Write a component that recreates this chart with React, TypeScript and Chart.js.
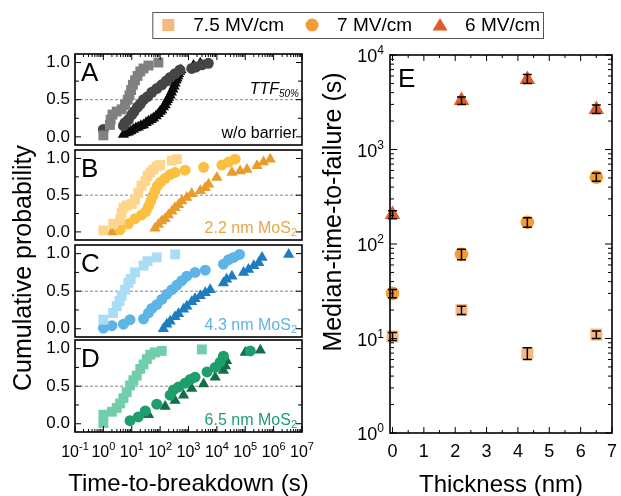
import React, { useEffect, useRef } from "react";
import { Chart, registerables } from "chart.js";
Chart.register(...registerables);

const W = 621;
const H = 496;
const FONT = '"Liberation Sans", Arial, Helvetica, sans-serif';

type Pt = [number, number]; // [time-to-breakdown (s), cumulative probability]

// ---------- Panel A: w/o barrier ----------
const aSquares: Pt[] = [[1.0, 0.02], [1.7, 0.16], [1.8, 0.23], [2.1, 0.3], [2.95, 0.34], [4.4, 0.37], [5.8, 0.43], [7.2, 0.5], [8.3, 0.56], [9.5, 0.63], [11, 0.7], [13, 0.76], [16, 0.82], [20, 0.88], [26, 0.92], [39, 0.96], [87, 1.0]];
const aCircles: Pt[] = [[1.0, 0.1], [5.1, 0.15], [5.8, 0.19], [7.6, 0.23], [10, 0.3], [12, 0.34], [16, 0.4], [20, 0.44], [26, 0.5], [36, 0.54], [51, 0.6], [76, 0.65], [114, 0.7], [163, 0.75], [225, 0.8], [335, 0.85], [500, 0.9], [1300, 0.92], [1800, 0.94], [2960, 0.97], [5000, 0.99]];
const aTriangles: Pt[] = [[5.1, 0.03], [6.2, 0.05], [7.6, 0.06], [9.3, 0.08], [11.4, 0.1], [14, 0.12], [17, 0.13], [21, 0.15], [26, 0.16], [32, 0.19], [39, 0.21], [48, 0.23], [58, 0.25], [72, 0.28], [87, 0.31], [100, 0.34], [114, 0.36], [130, 0.4], [150, 0.43], [165, 0.47], [182, 0.5], [200, 0.53], [225, 0.56], [250, 0.6], [280, 0.64], [310, 0.68], [335, 0.72], [360, 0.76], [390, 0.79], [420, 0.82], [445, 0.85], [490, 0.88], [540, 0.9], [1500, 0.96], [2600, 0.99]];

// ---------- Panel B: 2.2 nm MoS2 ----------
const bSquares: Pt[] = [[1.0, 0.02], [2.25, 0.11], [3.9, 0.17], [4.4, 0.26], [5.1, 0.33], [6.6, 0.36], [10, 0.38], [13, 0.44], [17, 0.53], [22, 0.63], [30, 0.69], [36, 0.76], [45, 0.81], [58, 0.85], [76, 0.89], [100, 0.91], [260, 0.97], [390, 0.99]];
const bCircles: Pt[] = [[3.9, 0.03], [7.6, 0.11], [13, 0.18], [22, 0.23], [32, 0.28], [39, 0.35], [47, 0.42], [55, 0.49], [66, 0.56], [81, 0.63], [106, 0.68], [150, 0.73], [225, 0.78], [335, 0.81], [760, 0.84], [3400, 0.88], [15000, 0.91], [26000, 0.95], [44000, 0.99]];
const bTriangles: Pt[] = [[2.0, 0.0], [66, 0.05], [87, 0.1], [114, 0.15], [150, 0.18], [196, 0.23], [260, 0.28], [335, 0.33], [445, 0.37], [580, 0.42], [870, 0.47], [1300, 0.52], [2600, 0.56], [3900, 0.6], [5100, 0.65], [10000, 0.74], [34000, 0.81], [66000, 0.83], [115000, 0.85], [260000, 0.9], [440000, 0.95], [760000, 0.99]];

// ---------- Panel C: 4.3 nm MoS2 ----------
const cSquares: Pt[] = [[1.0, 0.12], [2.2, 0.21], [2.95, 0.3], [3.7, 0.37], [4.4, 0.44], [5.8, 0.52], [7.6, 0.61], [9.2, 0.66], [13, 0.75], [26, 0.84], [36, 0.9], [76, 0.95], [340, 0.99]];
const cCircles: Pt[] = [[1.0, 0.01], [2.0, 0.04], [5.1, 0.06], [8.7, 0.12], [26, 0.13], [39, 0.21], [51, 0.27], [76, 0.32], [114, 0.39], [172, 0.46], [260, 0.52], [390, 0.58], [580, 0.64], [870, 0.7], [1700, 0.75], [3900, 0.78], [17000, 0.86], [26000, 0.92], [39000, 0.95], [63000, 0.99]];
const cTriangles: Pt[] = [[130, 0.0], [172, 0.06], [225, 0.1], [335, 0.16], [445, 0.2], [670, 0.26], [870, 0.3], [1300, 0.36], [1700, 0.4], [2600, 0.44], [3900, 0.48], [5800, 0.52], [17000, 0.61], [22000, 0.66], [34000, 0.7], [87000, 0.75], [130000, 0.79], [200000, 0.84], [300000, 0.88], [390000, 0.95], [3400000, 0.99]];

// ---------- Panel D: 6.5 nm MoS2 ----------
const dSquares: Pt[] = [[1.0, 0.01], [1.0, 0.12], [2.0, 0.16], [2.95, 0.21], [3.9, 0.27], [5.1, 0.34], [6.6, 0.42], [8.7, 0.51], [11.4, 0.58], [15, 0.64], [20, 0.73], [26, 0.79], [34, 0.86], [45, 0.92], [66, 0.95], [114, 0.97], [2950, 0.99]];
const dCircles: Pt[] = [[8.7, 0.04], [17, 0.09], [30, 0.17], [76, 0.26], [225, 0.38], [295, 0.45], [445, 0.49], [760, 0.54], [1150, 0.59], [1700, 0.62], [4500, 0.69], [8700, 0.75], [13000, 0.82], [17000, 0.9], [150000, 0.97]];
const dTriangles: Pt[] = [[39, 0.12], [150, 0.23], [335, 0.31], [670, 0.38], [1300, 0.47], [3400, 0.53], [8700, 0.62], [17000, 0.71], [20000, 0.77], [22000, 0.84], [100000, 0.95], [340000, 0.98]];

// ---------- Panel E: median time-to-failure ----------
const eThickness = [0, 2.2, 4.3, 6.5];
const e75 = [10.5, 20, 7, 11];
const e75Lo = [9.5, 18, 6, 10];
const e75Hi = [11.6, 22, 8, 12];
const e7 = [30, 78, 170, 510];
const e7Lo = [27, 68, 150, 460];
const e7Hi = [33, 88, 190, 560];
const e6 = [205, 3300, 5500, 2650];
const e6Lo = [185, 3000, 5000, 2400];
const e6Hi = [225, 3600, 6200, 2950];

// ---------- Axis ticks / labels ----------
const probMajor = [0, 0.5, 1.0];
const probMinor = [0.25, 0.75];
const probLabels = ["0.0", "0.5", "1.0"];
const timeExponents = [-1, 0, 1, 2, 3, 4, 5, 6, 7];
const thickTicks = [0, 1, 2, 3, 4, 5, 6, 7];
const thickMinor = [0.5, 1.5, 2.5, 3.5, 4.5, 5.5, 6.5];
const mttfExponents = [0, 1, 2, 3, 4];
const legendLabels = ["7.5 MV/cm", "7 MV/cm", "6 MV/cm"];

const E_COLORS = ["#F7B880", "#F39B36", "#DD5C29"];

type Shape = "rect" | "circle" | "triangle";
interface Series { data: Pt[]; color: string; shape: Shape; }
interface Panel {
  key: string; letter: string; box: [number, number, number, number];
  series: Series[]; note: string; noteSub: string; noteColor: string;
  topTicks: boolean; bottomTicks: boolean; axisText: boolean; ttf: boolean;
}

const panels: Panel[] = [
  { key: "A", letter: "A", box: [75, 54, 302, 145], note: "w/o barrier", noteSub: "", noteColor: "#000", topTicks: true, bottomTicks: false, axisText: false, ttf: true,
    series: [{ data: aSquares, color: "#808080", shape: "rect" }, { data: aCircles, color: "#454545", shape: "circle" }, { data: aTriangles, color: "#0a0a0a", shape: "triangle" }] },
  { key: "B", letter: "B", box: [75, 150, 302, 240], note: "2.2 nm MoS", noteSub: "2", noteColor: "#EBA545", topTicks: false, bottomTicks: false, axisText: false, ttf: false,
    series: [{ data: bSquares, color: "#FDD68C", shape: "rect" }, { data: bCircles, color: "#FCC040", shape: "circle" }, { data: bTriangles, color: "#E99B2B", shape: "triangle" }] },
  { key: "C", letter: "C", box: [75, 245, 302, 337], note: "4.3 nm MoS", noteSub: "2", noteColor: "#5DB4E6", topTicks: false, bottomTicks: false, axisText: false, ttf: false,
    series: [{ data: cSquares, color: "#A8DDF5", shape: "rect" }, { data: cCircles, color: "#5DB4E6", shape: "circle" }, { data: cTriangles, color: "#1D7DBF", shape: "triangle" }] },
  { key: "D", letter: "D", box: [75, 340, 302, 432], note: "6.5 nm MoS", noteSub: "2", noteColor: "#1E9E6C", topTicks: false, bottomTicks: true, axisText: true, ttf: false,
    series: [{ data: dSquares, color: "#72CDAA", shape: "rect" }, { data: dCircles, color: "#1E9E6C", shape: "circle" }, { data: dTriangles, color: "#146F48", shape: "triangle" }] },
];

const LEFT_R: Record<Shape, number> = { rect: 7, circle: 5.5, triangle: 6.5 };
const RIGHT_R: Record<Shape, number> = { rect: 8.5, circle: 6.8, triangle: 9 };

function f(size: number, style = "") { return `${style} ${size}px ${FONT}`.trim(); }

function drawPow(ctx: CanvasRenderingContext2D, x: number, baseline: number, exp: string, size: number, supSize: number, rise: number, align: "center" | "right") {
  ctx.font = f(size);
  const w1 = ctx.measureText("10").width;
  ctx.font = f(supSize);
  const w2 = ctx.measureText(exp).width;
  const total = w1 + w2;
  const x0 = align === "center" ? x - total / 2 : x - total;
  ctx.textAlign = "left";
  ctx.textBaseline = "alphabetic";
  ctx.font = f(size);
  ctx.fillText("10", x0, baseline);
  ctx.font = f(supSize);
  ctx.fillText(exp, x0 + w1, baseline - rise);
}

function drawSub(ctx: CanvasRenderingContext2D, xRight: number, baseline: number, main: string, sub: string, size: number, subSize: number, drop: number, style = "") {
  ctx.font = f(size, style);
  const w1 = ctx.measureText(main).width;
  ctx.font = f(subSize, style);
  const w2 = sub ? ctx.measureText(sub).width : 0;
  const x0 = xRight - w1 - w2;
  ctx.textAlign = "left";
  ctx.textBaseline = "alphabetic";
  ctx.font = f(size, style);
  ctx.fillText(main, x0, baseline);
  if (sub) { ctx.font = f(subSize, style); ctx.fillText(sub, x0 + w1, baseline + drop); }
}

function logMinor(exps: number[]): number[] {
  const out: number[] = [];
  for (let i = 0; i < exps.length - 1; i++) for (let k = 2; k <= 9; k++) out.push(k * Math.pow(10, exps[i]));
  return out;
}

function leftPlugin(p: Panel) {
  return {
    id: "leftFrame" + p.key,
    beforeDatasetsDraw(chart: any) {
      const { ctx, chartArea: a, scales } = chart;
      const yy = scales.y.getPixelForValue(0.5);
      ctx.save();
      ctx.setLineDash([3, 2]);
      ctx.strokeStyle = "#777";
      ctx.lineWidth = 0.9;
      ctx.beginPath(); ctx.moveTo(a.left, yy); ctx.lineTo(a.right, yy); ctx.stroke();
      ctx.restore();
    },
    afterDraw(chart: any) {
      const { ctx, chartArea: a, scales } = chart;
      const xs = scales.x, ys = scales.y;
      ctx.save();
      ctx.strokeStyle = "#000";
      ctx.lineWidth = 1.6;
      ctx.strokeRect(a.left, a.top, a.right - a.left, a.bottom - a.top);
      ctx.lineWidth = 1;
      ctx.beginPath();
      probMajor.forEach((v) => { const py = ys.getPixelForValue(v); ctx.moveTo(a.left, py); ctx.lineTo(a.left + 6, py); ctx.moveTo(a.right, py); ctx.lineTo(a.right - 6, py); });
      probMinor.forEach((v) => { const py = ys.getPixelForValue(v); ctx.moveTo(a.left, py); ctx.lineTo(a.left + 4, py); ctx.moveTo(a.right, py); ctx.lineTo(a.right - 4, py); });
      const majors = timeExponents.map((e) => Math.pow(10, e));
      const minors = logMinor(timeExponents);
      if (p.topTicks) {
        majors.forEach((v) => { const px = xs.getPixelForValue(v); ctx.moveTo(px, a.top); ctx.lineTo(px, a.top + 6); });
        minors.forEach((v) => { const px = xs.getPixelForValue(v); ctx.moveTo(px, a.top); ctx.lineTo(px, a.top + 3); });
      }
      if (p.bottomTicks) {
        majors.forEach((v) => { const px = xs.getPixelForValue(v); ctx.moveTo(px, a.bottom); ctx.lineTo(px, a.bottom - 6); });
        minors.forEach((v) => { const px = xs.getPixelForValue(v); ctx.moveTo(px, a.bottom); ctx.lineTo(px, a.bottom - 3); });
      }
      ctx.stroke();

      ctx.fillStyle = "#000";
      ctx.font = f(17);
      ctx.textAlign = "right";
      ctx.textBaseline = "middle";
      probMajor.forEach((v, i) => ctx.fillText(probLabels[i], a.left - 5, ys.getPixelForValue(v)));

      ctx.font = f(26);
      ctx.textAlign = "left";
      ctx.textBaseline = "alphabetic";
      ctx.fillText(p.letter, a.left + 6, a.top + 27);

      ctx.fillStyle = p.noteColor;
      drawSub(ctx, a.right - 5, a.bottom - 7, p.note, p.noteSub, 16, 11, 3);
      if (p.ttf) {
        ctx.fillStyle = "#000";
        drawSub(ctx, a.right - 3, ys.getPixelForValue(0.5) - 6, "TTF", "50%", 16, 10, 3, "italic");
      }

      if (p.axisText) {
        ctx.fillStyle = "#000";
        timeExponents.forEach((e) => drawPow(ctx, xs.getPixelForValue(Math.pow(10, e)), 457, String(e), 16, 11, 7, "center"));
        ctx.font = f(24);
        ctx.textAlign = "center";
        ctx.textBaseline = "alphabetic";
        ctx.fillText("Time-to-breakdown (s)", (a.left + a.right) / 2, 491);
        ctx.save();
        ctx.translate(31, 268);
        ctx.rotate(-Math.PI / 2);
        ctx.font = f(25);
        ctx.textBaseline = "alphabetic";
        ctx.fillText("Cumulative probability", 0, 0);
        ctx.restore();
      }
      ctx.restore();
    },
  };
}

const rightPlugin = {
  id: "rightFrame",
  afterDatasetsDraw(chart: any) {
    const { ctx, scales } = chart;
    const xs = scales.x, ys = scales.y;
    const groups = [[e75, e75Lo, e75Hi], [e7, e7Lo, e7Hi], [e6, e6Lo, e6Hi]];
    ctx.save();
    ctx.strokeStyle = "#000";
    ctx.lineWidth = 1.5;
    ctx.beginPath();
    groups.forEach(([, lo, hi]) => {
      eThickness.forEach((t, i) => {
        const px = xs.getPixelForValue(t);
        const y1 = ys.getPixelForValue(lo[i]);
        const y2 = ys.getPixelForValue(hi[i]);
        ctx.moveTo(px, y1); ctx.lineTo(px, y2);
        ctx.moveTo(px - 4.5, y1); ctx.lineTo(px + 4.5, y1);
        ctx.moveTo(px - 4.5, y2); ctx.lineTo(px + 4.5, y2);
      });
    });
    ctx.stroke();
    ctx.restore();
  },
  afterDraw(chart: any) {
    const { ctx, chartArea: a, scales } = chart;
    const xs = scales.x, ys = scales.y;
    ctx.save();
    ctx.strokeStyle = "#000";
    ctx.lineWidth = 1.6;
    ctx.strokeRect(a.left, a.top, a.right - a.left, a.bottom - a.top);
    ctx.lineWidth = 1;
    ctx.beginPath();
    thickTicks.forEach((v) => { const px = xs.getPixelForValue(v); ctx.moveTo(px, a.bottom); ctx.lineTo(px, a.bottom - 6); ctx.moveTo(px, a.top); ctx.lineTo(px, a.top + 6); });
    thickMinor.forEach((v) => { const px = xs.getPixelForValue(v); ctx.moveTo(px, a.bottom); ctx.lineTo(px, a.bottom - 3); ctx.moveTo(px, a.top); ctx.lineTo(px, a.top + 3); });
    mttfExponents.forEach((e) => { const py = ys.getPixelForValue(Math.pow(10, e)); ctx.moveTo(a.left, py); ctx.lineTo(a.left + 7, py); ctx.moveTo(a.right, py); ctx.lineTo(a.right - 7, py); });
    logMinor(mttfExponents).forEach((v) => { const py = ys.getPixelForValue(v); ctx.moveTo(a.left, py); ctx.lineTo(a.left + 4, py); ctx.moveTo(a.right, py); ctx.lineTo(a.right - 4, py); });
    ctx.stroke();

    ctx.fillStyle = "#000";
    ctx.font = f(18);
    ctx.textAlign = "center";
    ctx.textBaseline = "alphabetic";
    thickTicks.forEach((v) => ctx.fillText(String(v), xs.getPixelForValue(v), 457));
    mttfExponents.forEach((e) => drawPow(ctx, a.left - 6, ys.getPixelForValue(Math.pow(10, e)) + 7, String(e), 18, 12, 8, "right"));

    ctx.font = f(26);
    ctx.textAlign = "left";
    ctx.fillText("E", a.left + 8, a.top + 32);

    ctx.font = f(24);
    ctx.textAlign = "center";
    ctx.fillText("Thickness (nm)", (a.left + a.right) / 2, 492);
    ctx.save();
    ctx.translate(341, 212);
    ctx.rotate(-Math.PI / 2);
    ctx.font = f(25);
    ctx.fillText("Median-time-to-failure (s)", 0, 0);
    ctx.restore();

    // legend
    ctx.font = f(19);
    const widths = legendLabels.map((l) => ctx.measureText(l).width);
    const total = 16 + widths.reduce((s, w) => s + 25 + w, 0) + 2 * 28 + 3;
    const boxRight = 543;
    const boxLeft = boxRight - total;
    const boxTop = 12, boxBottom = 38;
    ctx.strokeStyle = "#555";
    ctx.lineWidth = 1;
    ctx.strokeRect(boxLeft + 0.5, boxTop + 0.5, total, boxBottom - boxTop);
    let m = boxLeft + 16;
    const cy = (boxTop + boxBottom) / 2;
    const shapes: Shape[] = ["rect", "circle", "triangle"];
    legendLabels.forEach((label, i) => {
      ctx.fillStyle = E_COLORS[i];
      ctx.beginPath();
      if (shapes[i] === "rect") ctx.rect(m - 6, cy - 6, 12, 12);
      else if (shapes[i] === "circle") ctx.arc(m, cy, 6.5, 0, Math.PI * 2);
      else { ctx.moveTo(m, cy - 7); ctx.lineTo(m + 7.5, cy + 5.5); ctx.lineTo(m - 7.5, cy + 5.5); ctx.closePath(); }
      ctx.fill();
      ctx.fillStyle = "#000";
      ctx.font = f(19);
      ctx.textAlign = "left";
      ctx.textBaseline = "middle";
      ctx.fillText(label, m + 25, cy + 1);
      m = m + 25 + widths[i] + 28;
    });
    ctx.restore();
  },
};

function makeLeft(canvas: HTMLCanvasElement, p: Panel) {
  const [l, t, r, b] = p.box;
  return new Chart(canvas, {
    type: "scatter",
    data: {
      datasets: p.series.map((s) => ({
        data: s.data.map(([x, y]) => ({ x, y })),
        pointStyle: s.shape,
        pointRadius: LEFT_R[s.shape],
        backgroundColor: s.color,
        borderColor: s.color,
        borderWidth: 0,
        clip: false as any,
      })),
    },
    options: {
      animation: false,
      responsive: false,
      devicePixelRatio: 1,
      events: [],
      layout: { padding: { left: l, top: t, right: W - r, bottom: H - b } },
      plugins: { legend: { display: false }, tooltip: { enabled: false } },
      scales: {
        x: { type: "logarithmic", min: 0.1, max: 1e7, display: false },
        y: { type: "linear", min: -0.11, max: 1.115, display: false },
      },
    },
    plugins: [leftPlugin(p)],
  } as any);
}

function makeRight(canvas: HTMLCanvasElement) {
  const series: { vals: number[]; shape: Shape }[] = [
    { vals: e6, shape: "triangle" },
    { vals: e7, shape: "circle" },
    { vals: e75, shape: "rect" },
  ];
  const colorFor: Record<Shape, string> = { rect: E_COLORS[0], circle: E_COLORS[1], triangle: E_COLORS[2] };
  return new Chart(canvas, {
    type: "scatter",
    data: {
      datasets: series.map((s) => ({
        data: s.vals.map((v, i) => ({ x: eThickness[i], y: v })),
        pointStyle: s.shape,
        pointRadius: RIGHT_R[s.shape],
        backgroundColor: colorFor[s.shape],
        borderColor: colorFor[s.shape],
        borderWidth: 0,
        clip: false as any,
      })),
    },
    options: {
      animation: false,
      responsive: false,
      devicePixelRatio: 1,
      events: [],
      layout: { padding: { left: 390, top: 55, right: W - 617, bottom: H - 433 } },
      plugins: { legend: { display: false }, tooltip: { enabled: false } },
      scales: {
        x: { type: "linear", min: -0.08, max: 7, display: false },
        y: { type: "logarithmic", min: 1, max: 1e4, display: false },
      },
    },
    plugins: [rightPlugin],
  } as any);
}

function ChartLayer({ make }: { make: (c: HTMLCanvasElement) => Chart }) {
  const ref = useRef<HTMLCanvasElement>(null);
  useEffect(() => {
    const ch = make(ref.current as HTMLCanvasElement);
    return () => ch.destroy();
  }, []);
  return <canvas ref={ref} width={W} height={H} style={{ position: "absolute", left: 0, top: 0, width: W, height: H }} />;
}

export default function App() {
  return (
    <div style={{ position: "absolute", left: 0, top: 0, width: W, height: H, background: "#fff", overflow: "hidden" }}>
      {panels.map((p) => (
        <ChartLayer key={p.key} make={(c) => makeLeft(c, p)} />
      ))}
      <ChartLayer make={makeRight} />
    </div>
  );
}
